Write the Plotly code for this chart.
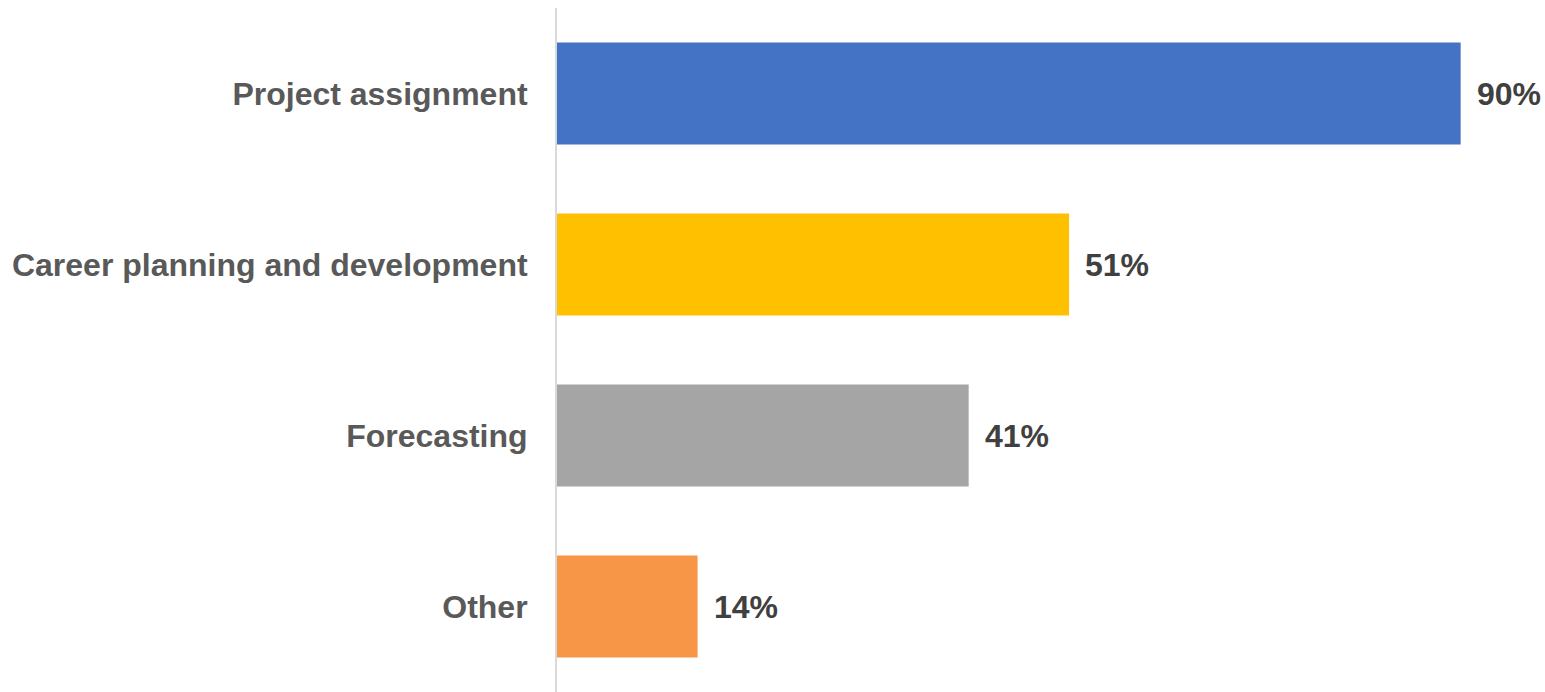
import plotly.graph_objects as go

categories = ["Project assignment", "Career planning and development", "Forecasting", "Other"]
values = [90, 51, 41, 14]
colors = ["#4472C4", "#FFC000", "#A5A5A5", "#F79646"]

fig = go.Figure(
    go.Bar(
        x=values,
        y=categories,
        orientation="h",
        marker=dict(color=colors, line=dict(width=0)),
        hoverinfo="skip",
    )
)

# value labels placed just past the end of each bar
for cat, val in zip(categories, values):
    fig.add_annotation(
        x=val, y=cat, text=f"{val}%", showarrow=False,
        xanchor="left", xshift=14,
        font=dict(family="Liberation Sans, Arial", size=32, color="#404040", weight="bold"),
    )

fig.update_layout(
    width=1545, height=692,
    margin=dict(l=557, r=0, t=8, b=0),
    paper_bgcolor="white", plot_bgcolor="white",
    bargap=0.404,
    showlegend=False,
    xaxis=dict(range=[0, 98.4], visible=False, fixedrange=True),
    yaxis=dict(
        categoryorder="array", categoryarray=categories[::-1],
        showline=True, linecolor="#D9D9D9", linewidth=2,
        showgrid=False, zeroline=False, ticks="",
        ticklabelstandoff=21,
        tickfont=dict(family="Liberation Sans, Arial", size=32, color="#595959", weight="bold"),
    ),
)

fig.write_html("out.html")
